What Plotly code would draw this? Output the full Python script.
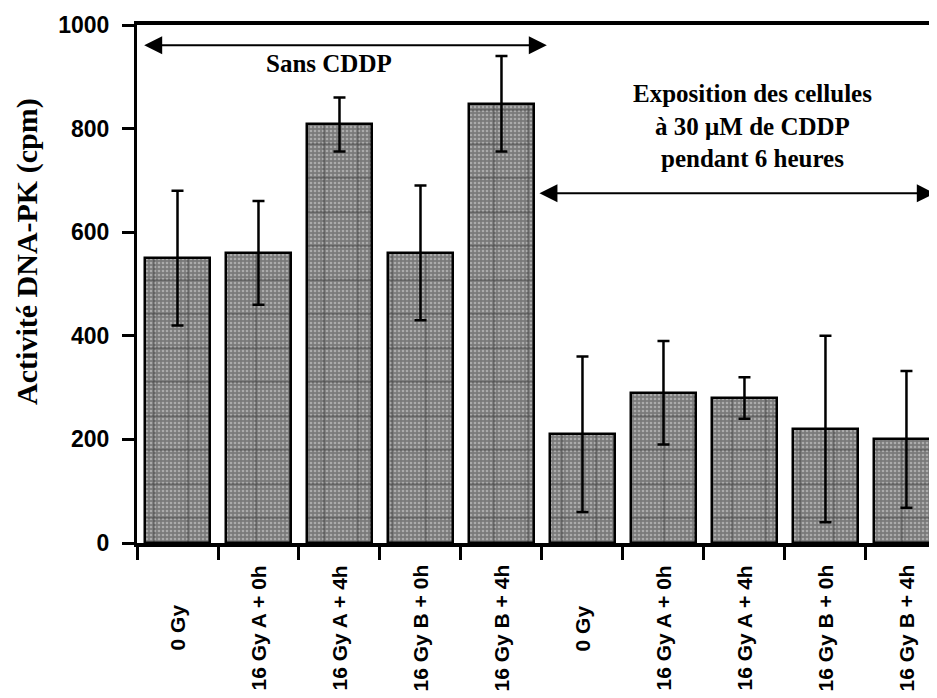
import plotly.graph_objects as go

# ---- data ----
labels = ["0 Gy", "16 Gy A + 0h", "16 Gy A + 4h", "16 Gy B + 0h", "16 Gy B + 4h",
          "0 Gy", "16 Gy A + 0h", "16 Gy A + 4h", "16 Gy B + 0h", "16 Gy B + 4h"]
values = [550, 560, 808, 560, 848, 210, 290, 280, 220, 200]
errors = [130, 100, 52, 130, 92, 150, 100, 40, 180, 132]
y_ticks = [0, 200, 400, 600, 800, 1000]
group_labels = ["Sans CDDP",
                "Exposition des cellules<br>à 30 μM de CDDP<br>pendant 6 heures"]
y_title = "Activité DNA-PK (cpm)"

xs = list(range(len(values)))
SANS = "Liberation Sans"
SERIF = "Liberation Serif"

fig = go.Figure()
# textured fill
fig.add_trace(go.Bar(
    x=xs, y=values, width=0.81,
    marker=dict(color="#808080",
                pattern=dict(shape=".", fgcolor="#dcdcdc", bgcolor="#7a7a7a",
                             size=4, solidity=0.35),
                line=dict(width=0)),
    hoverinfo="skip", showlegend=False))
# grid lines + outline + error bars
fig.add_trace(go.Bar(
    x=xs, y=values, width=0.81,
    marker=dict(color="rgba(0,0,0,0)",
                pattern=dict(shape="+", fgcolor="#1a1a1a", bgcolor="rgba(0,0,0,0)",
                             size=34, solidity=0.06),
                line=dict(color="black", width=2.5)),
    error_y=dict(type="data", array=errors, symmetric=True, color="black",
                 thickness=2.5, width=6),
    showlegend=False))

annotations = []
for i, lab in enumerate(labels):
    annotations.append(dict(
        x=i, xref="x", y=-0.164, yref="paper", text=lab, textangle=-90,
        showarrow=False, xanchor="center", yanchor="middle",
        font=dict(family=SANS, size=21, color="black", weight="bold")))

# y-axis title
annotations.append(dict(
    x=-0.1375, xref="paper", y=0.562, yref="paper", text=y_title, textangle=-90,
    showarrow=False, xanchor="center", yanchor="middle",
    font=dict(family=SERIF, size=30, color="black", weight="bold")))

# group arrows
annotations.append(dict(
    x=4.56, y=961, ax=-0.43, ay=961, xref="x", yref="y", axref="x", ayref="y",
    text="", showarrow=True, arrowhead=2, startarrowhead=2, arrowside="end+start",
    arrowsize=1.8, startarrowsize=1.8, arrowwidth=2, arrowcolor="black"))
annotations.append(dict(
    x=9.35, y=675, ax=4.45, ay=675, xref="x", yref="y", axref="x", ayref="y",
    text="", showarrow=True, arrowhead=2, startarrowhead=2, arrowside="end+start",
    arrowsize=1.8, startarrowsize=1.8, arrowwidth=2, arrowcolor="black"))
# group texts
annotations.append(dict(
    x=1.87, y=925, xref="x", yref="y", text=group_labels[0], showarrow=False,
    xanchor="center", yanchor="middle",
    font=dict(family=SERIF, size=25, color="black", weight="bold")))
annotations.append(dict(
    x=7.1, y=805, xref="x", yref="y", text=group_labels[1], showarrow=False,
    xanchor="center", yanchor="middle", align="center",
    font=dict(family=SERIF, size=25, color="black", weight="bold")))

# the page has an 8px body margin, so the figure is sized to end at the window edge
fig.update_layout(
    width=929, height=690,
    margin=dict(l=129, r=0, t=17, b=155),
    paper_bgcolor="white", plot_bgcolor="white",
    barmode="overlay", bargap=0,
    showlegend=False,
    annotations=annotations,
    xaxis=dict(range=[-0.5, 9.377], tickmode="array",
               tickvals=[i - 0.5 for i in range(len(values) + 1)],
               showticklabels=False, ticks="outside", ticklen=13, tickwidth=3,
               tickcolor="black", showline=True, linecolor="black", linewidth=4,
               mirror=True, showgrid=False, zeroline=False),
    yaxis=dict(range=[0, 1000], tickmode="array", tickvals=y_ticks,
               ticktext=[str(v) for v in y_ticks],
               ticks="outside", ticklen=12, tickwidth=3, tickcolor="black",
               showline=True, linecolor="black", linewidth=3, showgrid=False,
               zeroline=False, ticklabelstandoff=8,
               tickfont=dict(family=SANS, size=23, color="black", weight="bold")),
)

fig.write_html("out.html")
